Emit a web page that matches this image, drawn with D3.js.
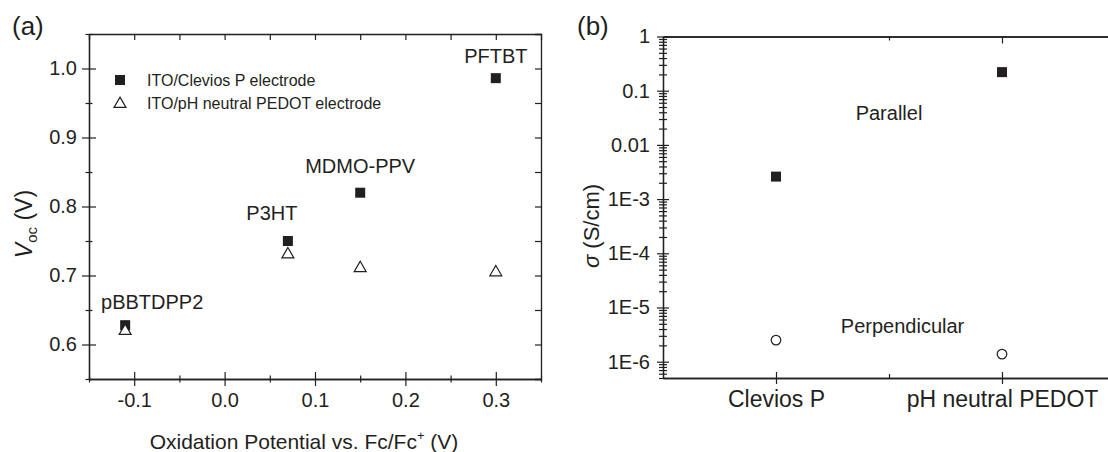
<!DOCTYPE html>
<html>
<head>
<meta charset="utf-8">
<script src="https://cdn.jsdelivr.net/npm/d3@7"></script>
<style>
  body { margin: 0; background: #fff; }
  svg { display: block; font-family: "Liberation Sans", Arial, sans-serif; }
  text { fill: #231f20; }
</style>
</head>
<body>
<svg id="chart" width="1108" height="452"></svg>
<script>
// panel (a): Voc vs oxidation potential
const polymers = ["pBBTDPP2", "P3HT", "MDMO-PPV", "PFTBT"];
const oxPotential = [-0.11, 0.07, 0.15, 0.30];
const vocClevios = [0.628, 0.75, 0.82, 0.986];
const vocNeutral = [0.621, 0.732, 0.712, 0.706];
const legendNames = ["ITO/Clevios P electrode", "ITO/pH neutral PEDOT electrode"];
const xTicksA = [-0.1, 0.0, 0.1, 0.2, 0.3];
const yTicksA = [0.6, 0.7, 0.8, 0.9, 1.0];

// panel (b): conductivity
const electrodes = ["Clevios P", "pH neutral PEDOT"];
const sigmaParallel = [2.6e-3, 0.22];
const sigmaPerpendicular = [2.5e-6, 1.38e-6];
const directions = ["Parallel", "Perpendicular"];
const yTicksB = [1, 0.1, 0.01, 1e-3, 1e-4, 1e-5, 1e-6];
const yTickLabelsB = ["1", "0.1", "0.01", "1E-3", "1E-4", "1E-5", "1E-6"];

const ink = "#231f20";
const svg = d3.select("#chart");

// make tick lines cross the axis line (Origin style)
function crossTicks(g, vertical, len) {
  g.selectAll(".tick line")
    .attr(vertical ? "x1" : "y1", -len)
    .attr(vertical ? "x2" : "y2", len);
}
function styleAxis(g) {
  g.select(".domain").attr("stroke", ink).attr("stroke-width", 1.3);
  g.selectAll(".tick line").attr("stroke", ink).attr("stroke-width", 1.2);
  g.selectAll(".tick text").attr("fill", ink);
}

// ---------------- panel (a) ----------------
const xa = d3.scaleLinear().domain([-0.15, 0.35]).range([89, 541]);
const ya = d3.scaleLinear().domain([0.55, 1.05]).range([379, 34]);
const minorXA = d3.range(-0.15, 0.351, 0.05).map(d => +d.toFixed(2));
const minorYA = d3.range(0.55, 1.051, 0.05).map(d => +d.toFixed(2));

// frame lines (top / right) with inward ticks
svg.append("g").attr("transform", `translate(0,${ya.range()[1]})`)
  .call(d3.axisTop(xa).tickValues(minorXA.slice(1, -1)).tickSize(-6).tickFormat(""))
  .call(styleAxis);
svg.append("g").attr("transform", `translate(${xa.range()[1]},0)`)
  .call(d3.axisRight(ya).tickValues(minorYA.slice(1, -1)).tickSize(-6).tickFormat(""))
  .call(styleAxis);

// bottom axis
svg.append("g").attr("transform", `translate(0,${ya.range()[0]})`)
  .call(d3.axisBottom(xa).tickValues(minorXA.filter(d => !xTicksA.some(t => Math.abs(t - d) < 1e-9))).tickFormat("").tickSizeOuter(0))
  .call(g => crossTicks(g, false, 3.5))
  .call(styleAxis);
svg.append("g").attr("transform", `translate(0,${ya.range()[0]})`)
  .call(d3.axisBottom(xa).tickValues(xTicksA).tickFormat(d => d.toFixed(1)).tickSizeOuter(0))
  .call(g => crossTicks(g, false, 7))
  .call(g => g.selectAll(".tick text").attr("y", 14).attr("font-size", 20).attr("font-family", null))
  .call(styleAxis);

// left axis
svg.append("g").attr("transform", `translate(${xa.range()[0]},0)`)
  .call(d3.axisLeft(ya).tickValues(minorYA.filter(d => !yTicksA.some(t => Math.abs(t - d) < 1e-9))).tickFormat("").tickSizeOuter(0))
  .call(g => crossTicks(g, true, 3.5))
  .call(styleAxis);
svg.append("g").attr("transform", `translate(${xa.range()[0]},0)`)
  .call(d3.axisLeft(ya).tickValues(yTicksA).tickFormat(d => d.toFixed(1)).tickSizeOuter(0))
  .call(g => crossTicks(g, true, 7))
  .call(g => g.selectAll(".tick text").attr("x", -12).attr("font-size", 20).attr("font-family", null))
  .call(styleAxis);

// axis titles
svg.append("text")
  .attr("x", 304).attr("y", 449)
  .attr("text-anchor", "middle").attr("font-size", 21)
  .call(t => {
    t.append("tspan").text("Oxidation Potential vs. Fc/Fc");
    t.append("tspan").attr("font-size", 13).attr("dy", -9).text("+");
    t.append("tspan").attr("dy", 9).text(" (V)");
  });
svg.append("text")
  .attr("transform", "translate(32,224) rotate(-90)")
  .attr("text-anchor", "middle").attr("font-size", 23)
  .call(t => {
    t.append("tspan").attr("font-style", "italic").text("V");
    t.append("tspan").attr("font-size", 15).attr("dy", 5).text("oc");
    t.append("tspan").attr("dy", -5).text(" (V)");
  });
svg.append("text").attr("x", 12).attr("y", 35).attr("font-size", 26).text("(a)");

// points: filled squares, open triangles
const aPts = polymers.map((p, i) => ({ name: p, x: oxPotential[i], c: vocClevios[i], n: vocNeutral[i] }));
svg.append("g").selectAll("rect").data(aPts).join("rect")
  .attr("x", d => xa(d.x) - 5).attr("y", d => ya(d.c) - 5)
  .attr("width", 10).attr("height", 10).attr("fill", ink);
const tri = d3.symbol().type(d3.symbolTriangle).size(62);
svg.append("g").selectAll("path").data(aPts).join("path")
  .attr("d", tri)
  .attr("transform", d => `translate(${xa(d.x)},${ya(d.n) + 1})`)
  .attr("fill", "#fff").attr("stroke", ink).attr("stroke-width", 1.2);

// polymer labels (pixel offsets from the Clevios point)
const labelOffsets = [[27, -23], [-16, -28], [0, -27], [0, -22]];
svg.append("g").selectAll("text").data(aPts).join("text")
  .attr("x", (d, i) => xa(d.x) + labelOffsets[i][0])
  .attr("y", (d, i) => ya(d.c) + labelOffsets[i][1])
  .attr("dy", "0.35em").attr("text-anchor", "middle").attr("font-size", 20)
  .text(d => d.name);

// legend
const legend = svg.append("g");
legend.append("rect").attr("x", 115).attr("y", 75).attr("width", 10).attr("height", 10).attr("fill", ink);
legend.append("path").attr("d", tri).attr("transform", "translate(120,104)")
  .attr("fill", "#fff").attr("stroke", ink).attr("stroke-width", 1.2);
legend.selectAll("text").data(legendNames).join("text")
  .attr("x", 147).attr("y", (d, i) => 80 + i * 23).attr("dy", "0.35em")
  .attr("font-size", 16).text(d => d);

// ---------------- panel (b) ----------------
const xb = d3.scaleLinear().domain([0.5, 2.5]).range([663, 1115]);
const yb = d3.scaleLog().domain([5e-7, 1]).range([378, 36.5]);
const minorYB = [];
for (let e = -7; e < 0; e++) for (let k = 2; k <= 9; k++) {
  const v = k * Math.pow(10, e);
  if (v >= 5e-7 && v < 1) minorYB.push(v);
}

// top frame
svg.append("g").attr("transform", `translate(0,${yb.range()[1]})`)
  .call(d3.axisTop(xb).tickValues([1.5]).tickSize(-4).tickFormat("").tickSizeOuter(0))
  .call(styleAxis);
svg.append("g").attr("transform", `translate(0,${yb.range()[1]})`)
  .call(d3.axisTop(xb).tickValues([2]).tickSize(-7).tickFormat("").tickSizeOuter(0))
  .call(styleAxis);

// bottom axis
svg.append("g").attr("transform", `translate(0,${yb.range()[0]})`)
  .call(d3.axisBottom(xb).tickValues([1.5]).tickSize(-4).tickFormat("").tickSizeOuter(0))
  .call(styleAxis);
svg.append("g").attr("transform", `translate(0,${yb.range()[0]})`)
  .call(d3.axisBottom(xb).tickValues([1, 2]).tickFormat((d, i) => electrodes[i]).tickSizeOuter(0))
  .call(g => crossTicks(g, false, 6))
  .call(g => g.selectAll(".tick text").attr("y", 13).attr("font-size", 23).attr("font-family", null))
  .call(styleAxis);

// left log axis
svg.append("g").attr("transform", `translate(${xb.range()[0]},0)`)
  .call(d3.axisLeft(yb).tickValues(minorYB).tickFormat("").tickSizeOuter(0))
  .call(g => crossTicks(g, true, 4))
  .call(styleAxis);
svg.append("g").attr("transform", `translate(${xb.range()[0]},0)`)
  .call(d3.axisLeft(yb).tickValues(yTicksB).tickFormat((d, i) => yTickLabelsB[i]).tickSizeOuter(0))
  .call(g => crossTicks(g, true, 6))
  .call(g => g.selectAll(".tick text").attr("x", -13).attr("font-size", 20).attr("font-family", null))
  .call(styleAxis);

svg.append("text")
  .attr("transform", "translate(599,226) rotate(-90)")
  .attr("text-anchor", "middle").attr("font-size", 22)
  .call(t => {
    t.append("tspan").attr("font-style", "italic").text("σ");
    t.append("tspan").text(" (S/cm)");
  });
svg.append("text").attr("x", 577).attr("y", 35).attr("font-size", 26).text("(b)");

const bPts = electrodes.map((e, i) => ({ x: i + 1, par: sigmaParallel[i], perp: sigmaPerpendicular[i] }));
svg.append("g").selectAll("rect").data(bPts).join("rect")
  .attr("x", d => xb(d.x) - 5).attr("y", d => yb(d.par) - 5)
  .attr("width", 10).attr("height", 10).attr("fill", ink);
svg.append("g").selectAll("circle").data(bPts).join("circle")
  .attr("cx", d => xb(d.x)).attr("cy", d => yb(d.perp)).attr("r", 4.8)
  .attr("fill", "#fff").attr("stroke", ink).attr("stroke-width", 1.2);

// series annotations, placed in data coordinates
const directionPos = [[1.5, 0.039], [1.56, 4.5e-6]];
svg.append("g").selectAll("text").data(directions).join("text")
  .attr("x", (d, i) => xb(directionPos[i][0]))
  .attr("y", (d, i) => yb(directionPos[i][1]))
  .attr("dy", "0.35em").attr("text-anchor", "middle").attr("font-size", 20)
  .text(d => d);
</script>
</body>
</html>
